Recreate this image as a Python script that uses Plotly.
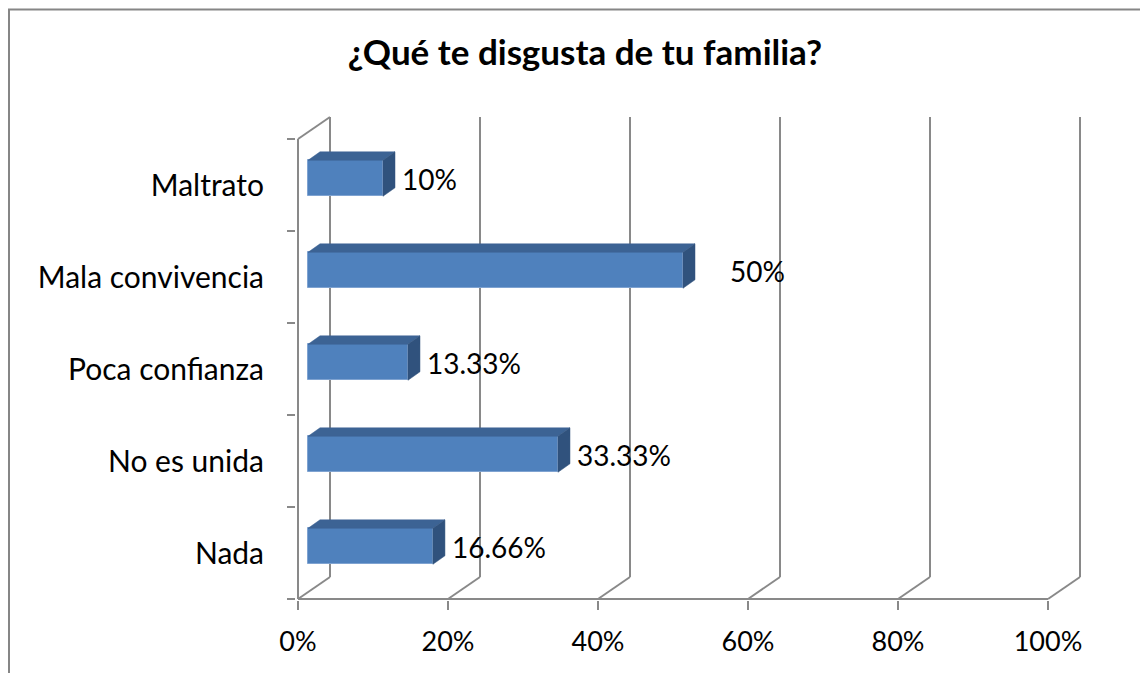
import plotly.graph_objects as go

# ---- data ----
categories = ["Nada", "No es unida", "Poca confianza", "Mala convivencia", "Maltrato"]
values = [16.66, 33.33, 13.33, 50, 10]
value_labels = ["16.66%", "33.33%", "13.33%", "50%", "10%"]
x_ticks = [0, 20, 40, 60, 80, 100]
x_tick_labels = ["0%", "20%", "40%", "60%", "80%", "100%"]
title_text = "¿Qué te disgusta de tu familia?"

# ---- style / geometry (reference page pixels, page has 8px body margin) ----
OFF = 8
W, H = 1148 - OFF, 673 - OFF
X0_PX = 298 - OFF      # front 0%
Y0_PX = 599 - OFF      # front floor
L = 296 - OFF
R = W - (1082 - OFF)
T = 113 - OFF
B = H - (600 - OFF)
PX_X = 7.5      # pixels per x unit
PX_Y = 92.0     # pixels per category
DX = 32 / PX_X  # wall depth in x units
DY = 22 / PX_Y  # wall depth in y units
BAR_BASE = 10 / PX_X
BAR_SHIFT = 0.073
BAR_W = 0.391
BAR_DX = 12 / PX_X
BAR_DY = 8.5 / PX_Y
label_xshift = [5, 5, 5, 33, 5]

GRID = "#898989"
FRONT = "#4F81BD"
TOP = "#3C6394"
SIDE = "#30527D"
FONT = "Lato"

x_lo = (L - X0_PX) / PX_X
x_hi = (W - R - X0_PX) / PX_X
y_lo = -0.5 - (H - B - Y0_PX) / PX_Y
y_hi = -0.5 + (Y0_PX - T) / PX_Y

n = len(categories)
idx = list(range(n))

fig = go.Figure()

shapes = []
def line(x0, y0, x1, y1, layer="below"):
    shapes.append(dict(type="line", xref="x", yref="y", x0=x0, y0=y0, x1=x1, y1=y1,
                       line=dict(color=GRID, width=2), layer=layer))

# walls & gridlines
for k in x_ticks:
    line(k, -0.5, k + DX, -0.5 + DY)
    line(k + DX, -0.5 + DY, k + DX, n - 0.5 + DY)
line(0, -0.5, 0, n - 0.5)
line(0, n - 0.5, DX, n - 0.5 + DY)
line(0, -0.5, x_ticks[-1], -0.5)

# front faces
fig.add_trace(go.Bar(
    x=values, y=[i + BAR_SHIFT for i in idx], base=BAR_BASE, width=BAR_W,
    orientation="h", marker=dict(color=FRONT, line=dict(color="#7FA3D1", width=1)),
    hoverinfo="skip", showlegend=False,
))

annotations = []
for i, v in enumerate(values):
    yc = i + BAR_SHIFT
    top = yc + BAR_W / 2
    bot = yc - BAR_W / 2
    x0 = BAR_BASE
    x1 = BAR_BASE + v
    shapes.append(dict(type="path", xref="x", yref="y", layer="above",
                       path=f"M{x0},{top} L{x1},{top} L{x1+BAR_DX},{top+BAR_DY} L{x0+BAR_DX},{top+BAR_DY} Z",
                       fillcolor=TOP, line=dict(color=TOP, width=0.5)))
    shapes.append(dict(type="path", xref="x", yref="y", layer="above",
                       path=f"M{x1},{top} L{x1+BAR_DX},{top+BAR_DY} L{x1+BAR_DX},{bot+BAR_DY} L{x1},{bot} Z",
                       fillcolor=SIDE, line=dict(color=SIDE, width=0.5)))
    annotations.append(dict(x=x1 + BAR_DX, y=yc, xref="x", yref="y", text=value_labels[i],
                            showarrow=False, xanchor="left", yanchor="middle",
                            xshift=label_xshift[i], yshift=-1,
                            font=dict(family=FONT, size=28, color="black")))

# outer border (left and top)
def px_to_paper_x(px):
    return (px - OFF - L) / (W - L - R)
def px_to_paper_y(py):
    return (H - B - (py - OFF)) / (H - T - B)
shapes.append(dict(type="line", xref="paper", yref="paper",
                   x0=px_to_paper_x(9), y0=px_to_paper_y(9.5), x1=px_to_paper_x(9), y1=px_to_paper_y(700),
                   line=dict(color="#868686", width=2)))
shapes.append(dict(type="line", xref="paper", yref="paper",
                   x0=px_to_paper_x(8), y0=px_to_paper_y(9.5), x1=px_to_paper_x(1160), y1=px_to_paper_y(9.5),
                   line=dict(color="#868686", width=2)))

fig.update_layout(
    width=W, height=H,
    margin=dict(l=L, r=R, t=T, b=B, pad=0),
    plot_bgcolor="white", paper_bgcolor="white",
    title=dict(text=f"<b>{title_text}</b>", x=(585 - OFF) / W, xref="container", xanchor="center",
               y=1 - (53 - OFF) / H, yref="container", yanchor="middle",
               font=dict(family=FONT, size=35, color="black")),
    xaxis=dict(range=[x_lo, x_hi], tickvals=x_ticks, ticktext=x_tick_labels,
               ticks="outside", ticklen=9, tickwidth=2, tickcolor=GRID,
               showgrid=False, zeroline=False, showline=False, ticklabelstandoff=9,
               tickfont=dict(family=FONT, size=27, color="black"), fixedrange=True),
    yaxis=dict(range=[y_lo, y_hi], tickvals=idx, ticktext=categories, ticks="",
               showgrid=False, zeroline=False, showline=False, ticklabelstandoff=31,
               minor=dict(tickvals=[i - 0.5 for i in range(n + 1)], ticks="outside",
                          ticklen=8, tickwidth=2, tickcolor=GRID, showgrid=False),
               tickfont=dict(family=FONT, size=30, color="black"), fixedrange=True),
    shapes=shapes, annotations=annotations, bargap=0,
)

fig.write_html("out.html")
